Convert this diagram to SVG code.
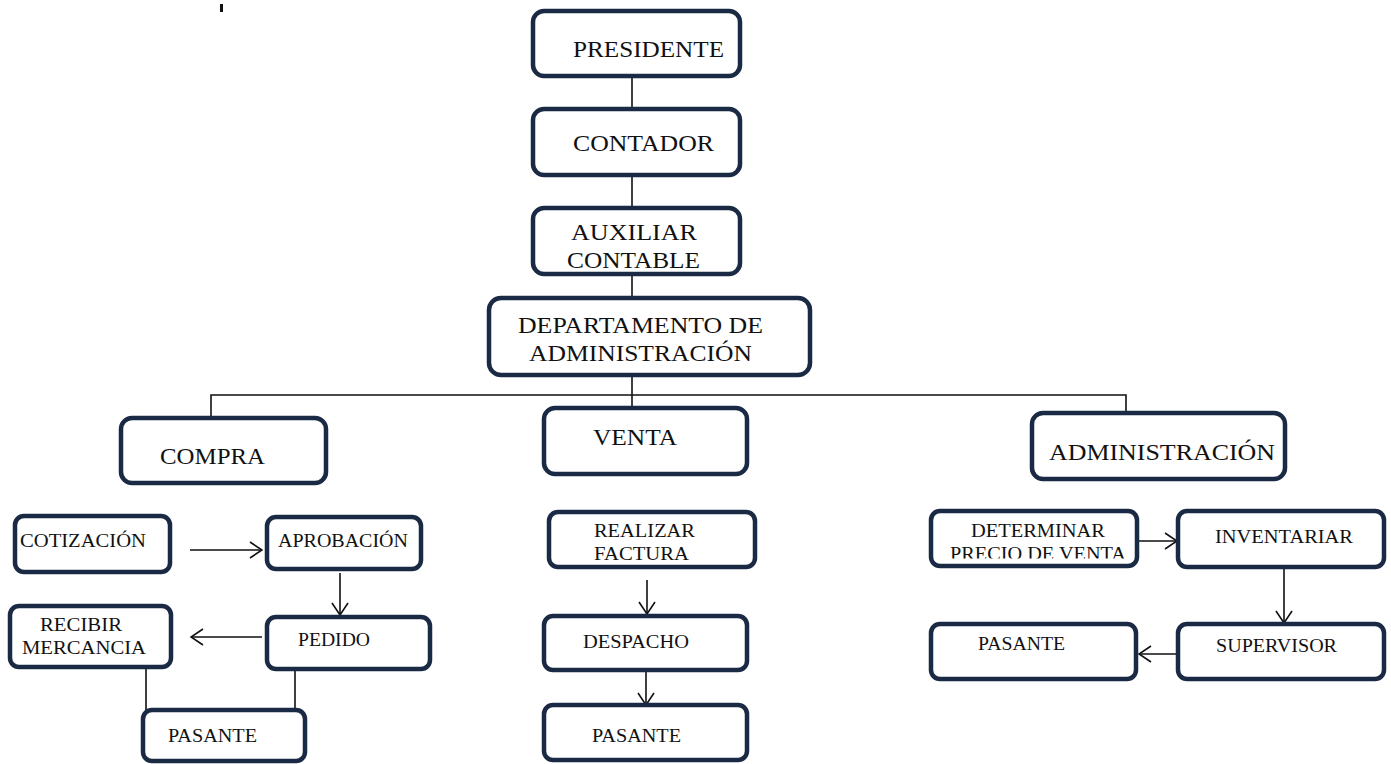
<svg xmlns="http://www.w3.org/2000/svg" width="1391" height="764" viewBox="0 0 1391 764">
<defs>
<style>
.box{fill:#fff;stroke:#1b2a44;stroke-width:4.5}
.ln{stroke:#111;stroke-width:1.6;fill:none}
text{font-family:'Liberation Serif','Times New Roman','DejaVu Serif',serif;fill:#111}
.t1{font-size:23px}
.t2{font-size:18px}
</style>
<marker id="ah" markerUnits="userSpaceOnUse" markerWidth="14" markerHeight="18" viewBox="0 0 14 18" refX="13" refY="9" orient="auto">
<path d="M1,1 L13,9 L1,17" fill="none" stroke="#111" stroke-width="1.6"/>
</marker>
<clipPath id="cp"><rect x="930" y="510" width="210" height="48.5"/></clipPath>
</defs>
<rect x="220" y="4" width="3" height="8" fill="#111"/>
<g id="connectors">
<line class="ln" x1="632" y1="77" x2="632" y2="109"/>
<line class="ln" x1="632" y1="175" x2="632" y2="208"/>
<line class="ln" x1="632" y1="274" x2="632" y2="298"/>
<line class="ln" x1="632" y1="375" x2="632" y2="408"/>
<polyline class="ln" points="211,418 211,395 1126,395 1126,413"/>
<line class="ln" x1="190" y1="550" x2="262" y2="550" marker-end="url(#ah)"/>
<line class="ln" x1="340" y1="573" x2="340" y2="615" marker-end="url(#ah)"/>
<line class="ln" x1="262" y1="637" x2="191" y2="637" marker-end="url(#ah)"/>
<line class="ln" x1="146" y1="667" x2="146" y2="710"/>
<line class="ln" x1="295" y1="669" x2="295" y2="710"/>
<line class="ln" x1="647" y1="580" x2="647" y2="614" marker-end="url(#ah)"/>
<line class="ln" x1="646" y1="671" x2="646" y2="705" marker-end="url(#ah)"/>
<line class="ln" x1="1138" y1="541" x2="1177" y2="541" marker-end="url(#ah)"/>
<line class="ln" x1="1284" y1="567" x2="1284" y2="623" marker-end="url(#ah)"/>
<line class="ln" x1="1178" y1="654" x2="1139" y2="654" marker-end="url(#ah)"/>
</g>
<g id="presidente"><rect class="box" x="533" y="11" width="207" height="65" rx="11"/><text class="t1" x="573" y="57" textLength="151" lengthAdjust="spacingAndGlyphs">PRESIDENTE</text></g>
<g id="contador"><rect class="box" x="533" y="109" width="207" height="66" rx="11"/><text class="t1" x="573" y="151" textLength="141" lengthAdjust="spacingAndGlyphs">CONTADOR</text></g>
<g id="auxiliar"><rect class="box" x="533" y="208" width="207" height="66" rx="11"/><text class="t1" x="571" y="240" textLength="126" lengthAdjust="spacingAndGlyphs">AUXILIAR</text><text class="t1" x="567" y="268" textLength="133" lengthAdjust="spacingAndGlyphs">CONTABLE</text></g>
<g id="departamento"><rect class="box" x="489" y="298" width="321" height="77" rx="12"/><text class="t1" x="518" y="333" textLength="245" lengthAdjust="spacingAndGlyphs">DEPARTAMENTO DE</text><text class="t1" x="529" y="361" textLength="223" lengthAdjust="spacingAndGlyphs">ADMINISTRACIÓN</text></g>
<g id="compra"><rect class="box" x="121" y="418" width="205" height="65" rx="11"/><text class="t1" x="160" y="464" textLength="105" lengthAdjust="spacingAndGlyphs">COMPRA</text></g>
<g id="venta"><rect class="box" x="544" y="408" width="203" height="66" rx="11"/><text class="t1" x="593" y="445" textLength="84" lengthAdjust="spacingAndGlyphs">VENTA</text></g>
<g id="administracion"><rect class="box" x="1032" y="413" width="253" height="66" rx="11"/><text class="t1" x="1049" y="460" textLength="226" lengthAdjust="spacingAndGlyphs">ADMINISTRACIÓN</text></g>
<g id="cotizacion"><rect class="box" x="15" y="516" width="155" height="56" rx="9"/><text class="t2" x="20" y="547" textLength="126" lengthAdjust="spacingAndGlyphs">COTIZACIÓN</text></g>
<g id="aprobacion"><rect class="box" x="267" y="517" width="154" height="52" rx="9"/><text class="t2" x="278" y="547" textLength="130" lengthAdjust="spacingAndGlyphs">APROBACIÓN</text></g>
<g id="pedido"><rect class="box" x="267" y="617" width="163" height="52" rx="9"/><text class="t2" x="298" y="646" textLength="72" lengthAdjust="spacingAndGlyphs">PEDIDO</text></g>
<g id="recibir"><rect class="box" x="10" y="606" width="161" height="61" rx="9"/><text class="t2" x="40" y="631" textLength="82" lengthAdjust="spacingAndGlyphs">RECIBIR</text><text class="t2" x="22" y="654" textLength="124" lengthAdjust="spacingAndGlyphs">MERCANCIA</text></g>
<g id="pasante1"><rect class="box" x="143" y="710" width="162" height="51" rx="9"/><text class="t2" x="168" y="742" textLength="89" lengthAdjust="spacingAndGlyphs">PASANTE</text></g>
<g id="realizar"><rect class="box" x="549" y="512" width="206" height="55" rx="9"/><text class="t2" x="594" y="537" textLength="101" lengthAdjust="spacingAndGlyphs">REALIZAR</text><text class="t2" x="594" y="560" textLength="95" lengthAdjust="spacingAndGlyphs">FACTURA</text></g>
<g id="despacho"><rect class="box" x="544" y="616" width="203" height="54" rx="9"/><text class="t2" x="583" y="648" textLength="106" lengthAdjust="spacingAndGlyphs">DESPACHO</text></g>
<g id="pasante2"><rect class="box" x="544" y="705" width="203" height="55" rx="9"/><text class="t2" x="592" y="742" textLength="89" lengthAdjust="spacingAndGlyphs">PASANTE</text></g>
<g id="determinar"><rect class="box" x="931" y="511" width="206" height="55" rx="9"/><text class="t2" x="971" y="537" textLength="134" lengthAdjust="spacingAndGlyphs">DETERMINAR</text><text class="t2" x="950" y="560" textLength="176" lengthAdjust="spacingAndGlyphs" clip-path="url(#cp)">PRECIO DE VENTA</text></g>
<g id="inventariar"><rect class="box" x="1178" y="511" width="206" height="56" rx="9"/><text class="t2" x="1215" y="543" textLength="138" lengthAdjust="spacingAndGlyphs">INVENTARIAR</text></g>
<g id="supervisor"><rect class="box" x="1178" y="624" width="206" height="55" rx="9"/><text class="t2" x="1216" y="652" textLength="121" lengthAdjust="spacingAndGlyphs">SUPERVISOR</text></g>
<g id="pasante3"><rect class="box" x="931" y="624" width="205" height="55" rx="9"/><text class="t2" x="978" y="650" textLength="87" lengthAdjust="spacingAndGlyphs">PASANTE</text></g>
</svg>
